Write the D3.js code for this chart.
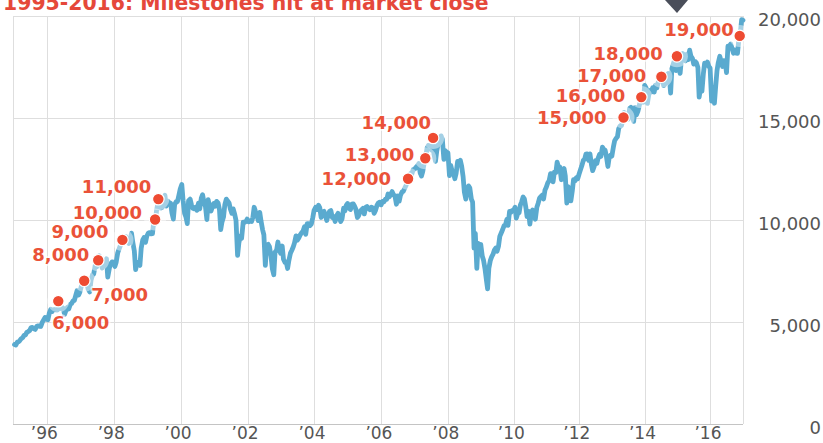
<!DOCTYPE html>
<html>
<head>
<meta charset="utf-8">
<script src="https://cdn.jsdelivr.net/npm/d3@7/dist/d3.min.js"></script>
<style>
body{margin:0;background:#fff;}
svg{display:block;}
</style>
</head>
<body>
<svg id="chart" width="823" height="443"></svg>
<script>

// Dow closes, two readings per month (mid-month, late month), from 1995
var startYear = 1995
var closes = [
	3870,3844, 3990,4011, 4070,4158, 4210,4321, 4340,4465, 4510,4556, 4700,4709, 4640,4611, 4770,4789, 4760,4756, 4970,5075, 5200,5117,
	5090,5395, 5600,5486, 5580,5587, 5570,5569, 5720,5643, 5700,5655, 5350,5529, 5700,5616, 5840,5882, 6010,6029, 6300,6522, 6300,6448,
	6760,6813, 6990,6878, 6900,6584, 6450,7009, 7290,7331, 7780,7673, 8040,8223, 7900,7622, 7850,7945, 8070,7180, 7600,7823, 7920,7908,
	7700,7907, 8370,8546, 8720,8800, 9100,9063, 9170,8900, 8830,8952, 9330,8883, 8460,7539, 7900,7843, 7750,8592, 9000,9117, 8880,9181,
	9340,9359, 9300,9307, 9900,9786, 10460,10789, 11000,10560, 10600,10971, 11190,10655, 10900,10829, 10800,10337, 10020,10729, 10880,10878, 11200,11497,
	11720,10941, 10300,10128, 9800,10922, 11000,10734, 10550,10522, 10600,10448, 10800,10522, 11050,11215, 10800,10651, 10000,10971, 10600,10415, 10640,10787,
	10650,10887, 10800,10495, 9500,9879, 10130,10735, 11000,10912, 10800,10502, 10300,10523, 10250,9950, 8240,8848, 9200,9075, 9870,9852, 9900,10021,
	9890,9920, 9900,10106, 10600,10404, 10190,9946, 10350,9925, 9500,9243, 7750,8737, 8780,8664, 8200,7592, 7290,8397, 8500,8896, 8500,8342,
	8700,8054, 7900,7891, 7600,7992, 8350,8480, 8650,8850, 9200,8985, 9100,9234, 9350,9416, 9650,9275, 9800,9801, 9700,9782, 10100,10454,
	10600,10488, 10700,10584, 10100,10358, 10400,10226, 9950,10188, 10400,10435, 10100,10140, 9900,10174, 10300,10080, 9900,10027, 10550,10428, 10700,10783,
	10550,10490, 10750,10766, 10650,10504, 10100,10193, 10400,10467, 10550,10275, 10600,10641, 10550,10482, 10600,10569, 10300,10440, 10700,10806, 10850,10718,
	10880,10865, 11000,10993, 11250,11109, 11250,11367, 11200,11168, 10750,11150, 10900,11186, 11350,11381, 11550,11679, 11950,12081, 12250,12222, 12450,12463,
	12560,12622, 12750,12269, 12130,12354, 12800,13063, 13500,13628, 13500,13409, 13900,13212, 12850,13358, 13750,13896, 14100,13930, 12950,13372, 13300,13265,
	12150,12650, 12350,12266, 12000,12263, 12850,12820, 12900,12638, 12100,11350, 11000,11378, 11650,11544, 11000,10851, 8600,9325, 7600,8829, 8700,8776,
	8200,8001, 7550,7063, 6600,7609, 8000,8168, 8300,8500, 8600,8447, 8700,9172, 9350,9496, 9700,9712, 10000,9713, 10400,10345, 10450,10428,
	10600,10067, 10300,10325, 10700,10857, 11100,11009, 10600,10137, 10400,9774, 10300,10466, 10300,10015, 10600,10788, 11050,11118, 11200,11006, 11450,11578,
	11800,11892, 12250,12226, 11850,12320, 12300,12811, 12550,12570, 11950,12414, 12500,12143, 10800,11614, 11400,10913, 11400,11955, 11900,12046, 12000,12218,
	12450,12633, 12900,12952, 13200,13212, 12900,13214, 12700,12393, 12600,12880, 12750,13009, 13200,13091, 13550,13437, 13400,13096, 12600,13026, 13150,13104,
	13550,13861, 13980,14054, 14450,14579, 14600,14840, 15250,15116, 15100,14910, 15450,15500, 15100,14810, 15500,15130, 15300,15546, 15900,16086, 15750,16577,
	16450,15699, 16150,16322, 16250,16458, 16250,16581, 16450,16717, 16800,16827, 17050,16563, 16650,17098, 17150,17043, 16200,17391, 17650,17828, 17300,17823,
	17400,17165, 18000,18133, 17900,17776, 18100,17841, 18300,18011, 17900,17620, 17750,17690, 17450,16000, 16500,16285, 17150,17664, 17600,17720, 17500,17425,
	15800,16466, 15700,16517, 17300,17685, 18000,17774, 17500,17787, 17700,17200, 18500,18432, 18600,18401, 18150,18308, 18150,18142, 18900,19124, 19800,19763
]

// milestones hit at market close
var milestoneValues = [6000,7000,8000,9000,10000,11000,12000,13000,14000,15000,16000,17000,18000,19000]
var milestoneDates = ["1996-05-06","1997-02-13","1997-07-16","1998-04-06","1999-03-29","1999-05-03",
	"2006-10-19","2007-04-25","2007-07-19","2013-05-07","2013-11-21","2014-07-03","2014-12-23","2016-11-22"]

var xTickYears = [1996,1998,2000,2002,2004,2006,2008,2010,2012,2014,2016]
var yTickValues = [0,5000,10000,15000,20000]

var titleText = "1995-2016: Milestones hit at market close"

// label placement around each dot : anchor, dx, dy (text centre)
var labelPlace = [
	["start",-6,21],["start",7,14],["end",-9,-6],["end",-14,-8],["end",-13,-7],["end",-7,-13],
	["end",-17,0],["end",-11,-4],["end",-2,-15],
	["end",-17,0],["end",-16,-2],["end",-15,-1],["end",-14,-3],["end",-6,-6]
]

var red = "#ee4b32", lineBlue = "#5aaacf", gridGrey = "#dedede", textGrey = "#555"

var svg = d3.select('#chart')

var parse = d3.timeParse("%Y-%m-%d")

var series = closes.map(function(v,i){
	var m = Math.floor(i/2)
	return {
		date: new Date(startYear + Math.floor(m/12), m%12, i%2 ? 28 : 14),
		value: v
	}
})

var milestones = milestoneValues.map(function(v,i){
	return {value:v, date:parse(milestoneDates[i]), place:labelPlace[i]}
})

//scales
var x = d3.scaleTime()
	.domain([new Date(1995,0,1), new Date(2008,0,1), new Date(2017,0,1)])
	.range([13.3, 448.3, 743.3])

var y = d3.scaleLinear()
	.domain([0,20000])
	.range([423.5, 15.5])

var plotTop = y(20000), plotBottom = y(0)

//vertical grid + x labels
var xTickDates = [new Date(1995,0,1)]
	.concat(xTickYears.map(function(yr){ return new Date(yr,0,1) }))
	.concat([new Date(2017,0,1)])

var xAxis = svg.append('g')
	.attr('transform','translate(0,'+plotBottom+')')
	.call(d3.axisBottom(x)
		.tickValues(xTickDates)
		.tickSize(-(plotBottom-plotTop))
		.tickPadding(0)
		.tickFormat(function(d){
			var yr = d.getFullYear()
			if(xTickYears.indexOf(yr) < 0) return ''
			return "\u2019" + d3.timeFormat('%y')(d)
		}))

xAxis.select('.domain').remove()
xAxis.selectAll('.tick line').attr('stroke',gridGrey).attr('shape-rendering','crispEdges')
xAxis.selectAll('.tick text')
	.attr('dx',-3)
	.attr('dy',null)
	.attr('y',15.5)
	.attr('fill',textGrey)
	.style('font-family','"DejaVu Sans", sans-serif')
	.style('font-size','17px')

//horizontal grid
var yGrid = svg.append('g')
	.call(d3.axisLeft(y)
		.tickValues(yTickValues)
		.tickSize(-(x.range()[2]-x.range()[0]))
		.tickFormat(''))
	.attr('transform','translate('+x.range()[0]+',0)')

yGrid.select('.domain').remove()
yGrid.selectAll('.tick line')
	.attr('stroke',function(d){ return d===0 ? '#c4c4c4' : gridGrey })
	.attr('shape-rendering','crispEdges')

//y labels on the right
var yAxis = svg.append('g')
	.attr('transform','translate(821,0)')
	.call(d3.axisRight(y)
		.tickValues(yTickValues)
		.tickSize(0)
		.tickPadding(0)
		.tickFormat(d3.format(',')))

yAxis.select('.domain').remove()
yAxis.selectAll('.tick text')
	.attr('text-anchor','end')
	.attr('x',0)
	.attr('dy','0.58em')
	.attr('fill',textGrey)
	.style('font-family','"DejaVu Sans", sans-serif')
	.style('font-size','18px')

//the line
var line = d3.line()
	.x(function(d){ return x(d.date) })
	.y(function(d){ return y(d.value) })

svg.append('path')
	.datum(series)
	.attr('d',line)
	.attr('fill','none')
	.attr('stroke',lineBlue)
	.attr('stroke-width',4.8)
	.attr('stroke-linejoin','round')
	.attr('stroke-linecap','round')

//milestones : soft halos, dots, labels
var ms = svg.append('g').selectAll('g')
	.data(milestones)
	.enter()
	.append('g')
	.attr('transform',function(d){ return 'translate('+x(d.date)+','+y(d.value)+')' })

ms.append('circle')
	.attr('r',11)
	.attr('fill','#fff')
	.attr('opacity',0.45)

ms.append('circle')
	.attr('r',5.8)
	.attr('fill',red)
	.attr('stroke','#fff')
	.attr('stroke-width',1.2)

ms.append('text')
	.text(function(d){ return d3.format(',')(d.value) })
	.attr('text-anchor',function(d){ return d.place[0] })
	.attr('x',function(d){ return d.place[1] })
	.attr('y',function(d){ return d.place[2] + 6.5 })
	.attr('fill','#ea5238')
	.attr('stroke','#fff')
	.attr('stroke-width',4)
	.attr('stroke-opacity',0.65)
	.attr('stroke-linejoin','round')
	.attr('paint-order','stroke')
	.style('font-family','"DejaVu Sans", sans-serif')
	.style('font-weight','bold')
	.style('font-size','18px')

//title, cut at the top edge as in the source
svg.append('text')
	.text(titleText)
	.attr('x',3)
	.attr('y',10)
	.attr('fill','#e5483a')
	.style('font-family','"DejaVu Sans", sans-serif')
	.style('font-weight','bold')
	.style('font-size','20.4px')

//marker arrow
svg.append('path')
	.attr('d','M665,0 L688,0 L677,13 Z')
	.attr('fill','#4a4e5a')

</script>
</body>
</html>
